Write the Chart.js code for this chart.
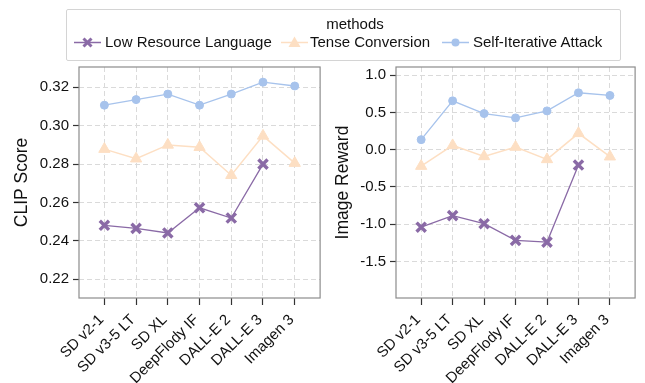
<!DOCTYPE html>
<html>
<head>
<meta charset="utf-8">
<script src="https://cdn.jsdelivr.net/npm/chart.js@4.4.1/dist/chart.umd.min.js"></script>
<style>
  body { margin: 0; background: #fff; width: 645px; height: 383px; overflow: hidden; position: relative;
         font-family: "Liberation Sans", Arial, sans-serif; color: #111; }
  #clipChart { position: absolute; left: 0; top: 0; }
  #rewardChart { position: absolute; left: 330px; top: 0; }
  .legend { position: absolute; left: 66px; top: 9px; width: 553px; height: 50px;
            border: 1px solid #d4d4d4; border-radius: 2px; background: #fff; }
  .legend span { position: absolute; font-size: 15px; line-height: 18px; white-space: nowrap; }
  .legend svg { position: absolute; }
</style>
</head>
<body>
<canvas id="clipChart" width="330" height="383"></canvas>
<canvas id="rewardChart" width="315" height="383"></canvas>
<div class="legend" id="legend"></div>

<script>
// categories and values
const categories = ["SD v2-1", "SD v3-5 LT", "SD XL", "DeepFlody IF", "DALL-E 2", "DALL-E 3", "Imagen 3"];
const methodNames = ["Low Resource Language", "Tense Conversion", "Self-Iterative Attack"];

const clipLowResource = [0.2481, 0.2465, 0.2441, 0.2572, 0.2519, 0.2800];
const clipTense = [0.2878, 0.2828, 0.2900, 0.2888, 0.2742, 0.2947, 0.2805];
const clipSelfIter = [0.3107, 0.3136, 0.3165, 0.3107, 0.3165, 0.3227, 0.3207];

const rewardLowResource = [-1.04, -0.885, -0.993, -1.217, -1.24, -0.206];
const rewardTense = [-0.22, 0.058, -0.09, 0.036, -0.13, 0.22, -0.094];
const rewardSelfIter = [0.135, 0.656, 0.485, 0.427, 0.521, 0.764, 0.728];

const clipTicks = [0.22, 0.24, 0.26, 0.28, 0.30, 0.32];
const rewardTicks = [-1.5, -1.0, -0.5, 0.0, 0.5, 1.0];

const purple = "#8a6aa6";
const peach = "#fddfc3";
const blue = "#a7c3ec";
const fontFamily = '"Liberation Sans", Arial, sans-serif';

// draw the grey frame round the plot area
const frame = {
  id: "frame",
  beforeDatasetsDraw(chart) {
    const { ctx, chartArea: a } = chart;
    ctx.save();
    ctx.strokeStyle = "#8c8c8c";
    ctx.lineWidth = 1.2;
    ctx.strokeRect(a.left, a.top, a.right - a.left, a.bottom - a.top);
    ctx.restore();
  },
};

function toPoints(values) {
  return values.map((v, i) => ({ x: i, y: v }));
}

function makeDatasets(low, tense, selfIter) {
  return [
    {
      label: methodNames[1], data: toPoints(tense),
      borderColor: peach, backgroundColor: peach, borderWidth: 1.5,
      pointStyle: "triangle", pointRadius: 6.5, pointBorderWidth: 1,
    },
    {
      label: methodNames[2], data: toPoints(selfIter),
      borderColor: blue, backgroundColor: blue, borderWidth: 1.3,
      pointStyle: "circle", pointRadius: 4, pointBorderWidth: 1,
    },
    {
      label: methodNames[0], data: toPoints(low),
      borderColor: purple, backgroundColor: purple, borderWidth: 1.3,
      pointStyle: "crossRot", pointRadius: 6.5, pointBorderWidth: 3.4,
    },
  ];
}

function makeChart(id, cfg) {
  return new Chart(document.getElementById(id), {
    type: "line",
    data: { datasets: makeDatasets(cfg.low, cfg.tense, cfg.selfIter) },
    options: {
      responsive: false,
      animation: false,
      layout: { padding: { top: 67, right: cfg.padRight, left: 0, bottom: 0 } },
      plugins: { legend: { display: false }, tooltip: { enabled: false } },
      scales: {
        x: {
          type: "linear",
          min: -0.8,
          max: 6.8,
          afterBuildTicks: (s) => { s.ticks = categories.map((c, i) => ({ value: i })); },
          afterFit: (s) => { s.height = 85; },
          ticks: {
            callback: (v) => categories[v],
            minRotation: 45, maxRotation: 45, autoSkip: false, padding: 6, labelOffset: -3,
            color: "#111", font: { family: fontFamily, size: 15 },
          },
          grid: { color: "#dadada", tickColor: "#333", tickLength: 7, tickWidth: 1.2 },
          border: { display: false, dash: [5, 3] },
        },
        y: {
          min: cfg.min,
          max: cfg.max,
          afterBuildTicks: (s) => { s.ticks = cfg.ticks.map((v) => ({ value: v })); },
          afterFit: (s) => { s.width = cfg.axisWidth; },
          ticks: {
            callback: (v) => v.toFixed(cfg.decimals),
            padding: 4, color: "#111", font: { family: fontFamily, size: 15 },
          },
          grid: { color: "#dadada", tickColor: "#333", tickLength: 6, tickWidth: 1.2 },
          border: { display: false, dash: [5, 3] },
          title: {
            display: true, text: cfg.title, color: "#111",
            font: { family: fontFamily, size: 17.5 },
            padding: { top: cfg.titlePad, bottom: 0 },
          },
        },
      },
    },
    plugins: [frame],
  });
}

makeChart("clipChart", {
  low: clipLowResource, tense: clipTense, selfIter: clipSelfIter,
  min: 0.2102, max: 0.3306, ticks: clipTicks, decimals: 2,
  title: "CLIP Score", axisWidth: 79, padRight: 7, titlePad: 12,
});

makeChart("rewardChart", {
  low: rewardLowResource, tense: rewardTense, selfIter: rewardSelfIter,
  min: -1.99, max: 1.11, ticks: rewardTicks, decimals: 1,
  title: "Image Reward", axisWidth: 66, padRight: 4, titlePad: 3,
});

// legend (HTML so the text stays text)
const legend = document.getElementById("legend");
const markerSvg = {
  cross: `<path d="M9.5 3.5 L17.5 11.5 M17.5 3.5 L9.5 11.5" stroke="${purple}" stroke-width="3"/>`,
  triangle: `<polygon points="13.5,1.5 19.5,12 7.5,12" fill="${peach}"/>`,
  circle: `<circle cx="13.5" cy="7.5" r="4" fill="${blue}"/>`,
};
const legendItems = [
  { name: methodNames[0], color: purple, marker: "cross", lineX: 7, textX: 38 },
  { name: methodNames[1], color: peach, marker: "triangle", lineX: 214, textX: 243 },
  { name: methodNames[2], color: blue, marker: "circle", lineX: 375, textX: 406 },
];

let html = `<span style="left:0;width:576px;text-align:center;top:5px">methods</span>`;
legendItems.forEach((it) => {
  html += `<svg style="left:${it.lineX}px;top:25px" width="27" height="15">` +
    `<line x1="0" y1="7.5" x2="27" y2="7.5" stroke="${it.color}" stroke-width="1.5"/>` +
    markerSvg[it.marker] + `</svg>`;
  html += `<span style="left:${it.textX}px;top:23px">${it.name}</span>`;
});
legend.innerHTML = html;
</script>
</body>
</html>
